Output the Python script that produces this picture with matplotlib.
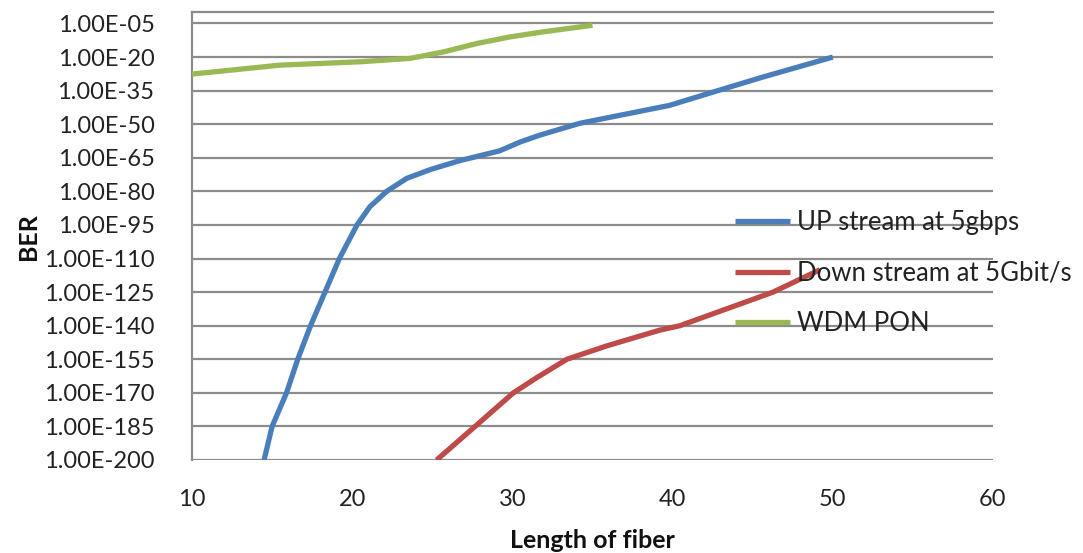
import matplotlib
matplotlib.use("Agg")
import matplotlib.pyplot as plt
import numpy as np
from matplotlib.ticker import FixedLocator, FuncFormatter

# Data: fiber length (km) and log10(BER)
up_x = [14.5, 15.0, 15.9, 16.6, 17.4, 18.3, 19.2, 20.3, 21.1, 22.15, 23.4, 24.9, 26.7,
        29.2, 30.5, 31.7, 34.2, 39.8, 42.5, 45.6, 50.0]
up_log = [-200, -185, -170, -155, -140, -125, -110, -95, -86.9, -80, -74.2, -70.2, -66.3,
          -61.9, -57.9, -54.9, -49.6, -41.6, -35.7, -29, -20]

down_x = [25.27, 27.67, 30.06, 31.5, 33.4, 35.9, 39.2, 40.46, 46.27, 49.2]
down_log = [-200, -185, -170, -163.3, -155, -149, -142, -140, -125, -115]

wdm_x = [10.0, 15.5, 20.5, 23.6, 25.7, 27.8, 29.85, 31.9, 35.0]
wdm_log = [-27.6, -23.6, -22.1, -20.6, -17.7, -13.9, -11.0, -8.75, -5.8]

labels = ["UP stream at 5gbps", "Down stream at 5Gbit/s", "WDM PON"]
colors = ["#4A7EBB", "#BE4B48", "#98B954"]
y_tick_exps = list(range(-5, -201, -15))
x_ticks = [10, 20, 30, 40, 50, 60]

plt.rcParams['font.family'] = ['Lato', 'DejaVu Sans']
FS = 17
LFS = 18.5
AFS = 18

fig = plt.figure(figsize=(10.83, 5.53), dpi=100)
ax = fig.add_axes([192/1083, 1-460/553, (993-192)/1083, (460-12.3)/553])

series = [(up_x, up_log), (down_x, down_log), (wdm_x, wdm_log)]
for (xs, ls), lab, c in zip(series, labels, colors):
    ax.plot(xs, [10.0**v for v in ls], color=c, lw=3.8, label=lab,
            solid_capstyle='butt', solid_joinstyle='round', zorder=3)

ax.set_yscale('log')
ax.set_ylim(1e-200, 1e0)
ax.set_xlim(10, 60)
ax.yaxis.set_major_locator(FixedLocator([10.0**e for e in y_tick_exps]))
ax.yaxis.set_minor_locator(FixedLocator([]))
ax.yaxis.set_major_formatter(FuncFormatter(lambda v, p: "1.00E-%02d" % round(-np.log10(v))))
ax.set_xticks(x_ticks)
ax.set_xticklabels([str(t) for t in x_ticks])

ax.grid(True, axis='y', color='#8C8C8C', lw=1.6, zorder=1)
for s in ['right', 'bottom']:
    ax.spines[s].set_visible(False)
ax.spines['top'].set_color('#8C8C8C')
ax.spines['top'].set_linewidth(1.6)
ax.spines['left'].set_color('#8C8C8C')
ax.spines['left'].set_linewidth(1.6)
ax.tick_params(axis='both', length=0, labelsize=FS, colors='#222222')
ax.tick_params(axis='y', pad=27)
ax.tick_params(axis='x', pad=21)

ax.set_ylabel("BER", fontsize=AFS, fontweight='bold', color='#111111')
ax.set_xlabel("Length of fiber", fontsize=AFS, fontweight='bold', color='#111111')
ax.yaxis.set_label_coords(-0.19, 0.5)
ax.xaxis.set_label_coords(0.5, -0.155)

leg = ax.legend(loc='center left', bbox_to_anchor=(735/1083, 1-273/553),
                bbox_transform=fig.transFigure, frameon=False, fontsize=LFS,
                handlelength=2.14, handletextpad=0.27, labelspacing=1.0,
                borderpad=0, borderaxespad=0)
for t in leg.get_texts():
    t.set_color('#222222')

fig.savefig("out.png", dpi=100)
